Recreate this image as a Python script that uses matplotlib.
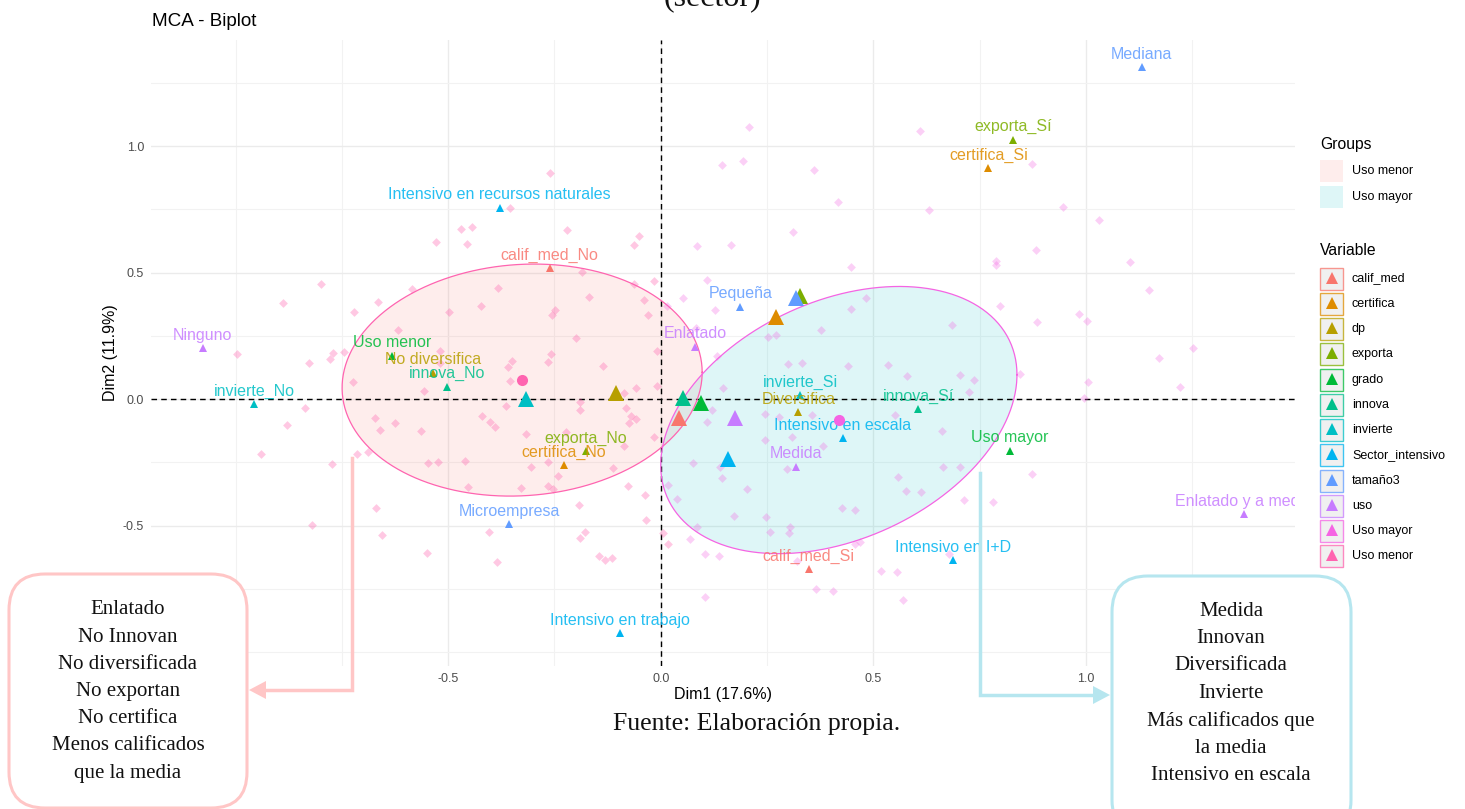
import numpy as np
import matplotlib
matplotlib.use("Agg")
import matplotlib.pyplot as plt
from matplotlib.patches import FancyBboxPatch, Rectangle, Polygon

plt.rcParams["font.family"] = ["Liberation Sans", "DejaVu Sans"]
plt.rcParams["axes.unicode_minus"] = False

# --- variables (legend order) and ggplot hue colours
var_names = ["calif_med", "certifica", "dp", "exporta", "grado", "innova", "invierte",
             "Sector_intensivo", "tamaño3", "uso", "Uso mayor", "Uso menor"]
var_colors = ["#F8766D", "#DE8C00", "#B79F00", "#7CAE00", "#00BA38", "#00C08B", "#00BFC4",
              "#00B4F0", "#619CFF", "#C77CFF", "#F564E3", "#FF64B0"]
# big markers: variable centroids (triangles) and group means (circles, last two)
var_x = [0.042, 0.272, -0.105, 0.328, 0.095, 0.052, -0.316, 0.159, 0.319, 0.174, 0.419, -0.326]
var_y = [-0.076, 0.325, 0.025, 0.408, -0.017, 0.005, -0.001, -0.238, 0.398, -0.076, -0.083, 0.075]

# --- category coordinates
cat_labels = ["calif_med_No", "calif_med_Si", "certifica_No", "certifica_Si",
              "No diversifica", "Diversifica", "exporta_No", "exporta_Sí",
              "Uso menor", "Uso mayor", "innova_No", "innova_Sí",
              "invierte_No", "invierte_Si",
              "Intensivo en recursos naturales", "Intensivo en escala",
              "Intensivo en I+D", "Intensivo en trabajo",
              "Mediana", "Pequeña", "Microempresa",
              "Ninguno", "Enlatado", "Medida", "Enlatado y a media"]
cat_var = ["calif_med", "calif_med", "certifica", "certifica", "dp", "dp", "exporta", "exporta",
           "grado", "grado", "innova", "innova", "invierte", "invierte",
           "Sector_intensivo", "Sector_intensivo", "Sector_intensivo", "Sector_intensivo",
           "tamaño3", "tamaño3", "tamaño3", "uso", "uso", "uso", "uso"]
cat_x = [-0.261, 0.348, -0.228, 0.771, -0.535, 0.324, -0.176, 0.829, -0.632, 0.821, -0.503, 0.606,
         -0.957, 0.328, -0.379, 0.428, 0.688, -0.095, 1.131, 0.187, -0.356, -1.077, 0.081, 0.318, 1.372]
cat_y = [0.518, -0.673, -0.262, 0.913, 0.104, -0.053, -0.207, 1.024, 0.170, -0.204, 0.049, -0.041,
         -0.020, 0.016, 0.755, -0.155, -0.638, -0.926, 1.312, 0.365, -0.495, 0.200, 0.207, -0.268, -0.456]

# --- individuals by group
menor_x = [-0.260, -0.354, -0.469, -0.444, -0.528, -0.456, -0.220, -0.050, -0.062, -0.184, -0.799, -0.584,
           -0.382, -0.062, -0.016, -0.889, -0.665, -0.422, -0.168, -0.040, -0.722, -0.498, -0.248, -0.256,
           -0.031, -0.619, -0.200, -0.996, -0.771, -0.746, -0.828, -0.778, -0.520, -0.257, -0.351, -0.265,
           -0.136, -0.009, -0.360, -0.519, -0.724, -0.556, -0.354, -0.364, -0.191, -0.191, -0.087, -0.057,
           -0.008, -0.837, -0.878, -0.672, -0.625, -0.661, -0.564, -0.420, -0.401, -0.389, -0.316, -0.082,
           -0.070, -0.057, -0.075, -0.016, -0.222, -0.087, -0.941, -0.774, -0.715, -0.688, -0.548, -0.524,
           -0.460, -0.306, -0.266, -0.242, -0.113, -0.453, -0.328, -0.265, -0.253, -0.077, -0.036, -0.193,
           -0.669, -0.821, -0.035, -0.656, -0.403, -0.179, -0.189, -0.549, -0.385, -0.146, -0.132, -0.115,
           0.006, 0.018]
menor_y = [0.892, 0.756, 0.673, 0.681, 0.622, 0.614, 0.669, 0.645, 0.610, 0.503, 0.455, 0.436,
           0.440, 0.455, 0.468, 0.381, 0.385, 0.369, 0.404, 0.392, 0.345, 0.345, 0.353, 0.332,
           0.332, 0.273, 0.242, 0.179, 0.183, 0.187, 0.143, 0.158, 0.190, 0.179, 0.150, 0.146,
           0.132, 0.190, 0.128, 0.141, 0.068, 0.033, 0.072, -0.026, -0.011, -0.043, 0.023, 0.045,
           0.053, -0.034, -0.103, -0.074, -0.094, -0.123, -0.126, -0.066, -0.090, -0.109, -0.138, -0.037,
           -0.066, -0.079, -0.094, -0.149, -0.132, -0.186, -0.217, -0.257, -0.217, -0.208, -0.252, -0.248,
           -0.245, -0.270, -0.248, -0.304, -0.272, -0.349, -0.351, -0.344, -0.355, -0.344, -0.379, -0.419,
           -0.432, -0.498, -0.478, -0.538, -0.527, -0.527, -0.551, -0.610, -0.645, -0.621, -0.638, -0.630,
           -0.531, -0.571]
mayor_x = [0.207, 0.611, 0.144, 0.194, 0.361, 0.873, 0.418, 0.632, 0.946, 1.031, 0.311, 0.085,
           0.165, 0.882, 0.789, 0.788, 1.104, 0.447, 0.110, 1.149, 0.052, 0.484, 0.128, 0.448,
           0.797, 0.984, 1.002, 0.885, 0.685, 0.377, 0.252, 0.272, 0.084, 0.015, 1.253, 1.171,
           0.132, 0.300, 0.333, 0.441, 0.535, 0.703, 0.724, 0.579, 0.552, 0.662, 0.356, 0.246,
           0.278, 0.109, 0.120, 0.146, 0.309, 0.246, 0.382, 0.140, 0.144, 0.076, 0.665, 0.705,
           0.202, 0.296, 0.016, 0.039, 0.172, 0.247, 0.256, 0.304, 0.302, 0.085, 0.068, 0.104,
           0.138, 0.320, 0.104, 0.366, 0.406, 0.519, 0.556, 0.571, 0.427, 0.457, 0.468, 0.458,
           0.578, 0.613, 0.559, 0.737, 0.844, 1.005, 0.995, 1.221, 0.873, 0.714, 0.782, 0.677]
mayor_y = [1.074, 1.059, 0.925, 0.941, 0.905, 0.928, 0.780, 0.748, 0.758, 0.709, 0.661, 0.606,
           0.610, 0.590, 0.547, 0.531, 0.543, 0.523, 0.472, 0.432, 0.400, 0.400, 0.353, 0.357,
           0.368, 0.336, 0.309, 0.306, 0.294, 0.273, 0.246, 0.254, 0.282, 0.368, 0.203, 0.163,
           0.170, 0.137, 0.143, 0.132, 0.136, 0.095, 0.029, 0.092, -0.063, -0.125, -0.063, -0.060,
           -0.070, -0.090, -0.043, 0.045, -0.149, -0.162, -0.185, -0.268, -0.313, -0.252, -0.270, -0.270,
           -0.356, -0.277, -0.340, -0.395, -0.462, -0.465, -0.525, -0.505, -0.528, -0.505, -0.555, -0.614,
           -0.621, -0.639, -0.781, -0.750, -0.758, -0.681, -0.685, -0.793, -0.431, -0.440, -0.564, -0.573,
           -0.364, -0.368, -0.309, 0.075, 0.099, 0.068, 0.003, 0.049, -0.296, -0.399, -0.408, -0.614]

# --- concentration ellipses (spread along x, y and covariance term)
groups = ["Uso menor", "Uso mayor"]
group_fill = ["#F8766D", "#00BFC4"]
group_edge = ["#FF64B0", "#F564E3"]
ell_sx = [0.4235, 0.419]
ell_sy = [0.4585, 0.528]
ell_cxy = [0.013, 0.075]

left_box = ["Enlatado", "No Innovan", "No diversificada", "No exportan", "No certifica",
            "Menos calificados", "que la media"]
right_box = ["Medida", "Innovan", "Diversificada", "Invierte", "Más calificados que",
             "la media", "Intensivo en escala"]

W, H = 1465, 809
fig = plt.figure(figsize=(W / 100, H / 100), dpi=100)
ax = fig.add_axes([151 / W, 1 - 666 / H, (1295 - 151) / W, (666 - 39.5) / H])
ax.set_xlim(-1.199, 1.492)
ax.set_ylim(-1.055, 1.421)
for s in ax.spines.values():
    s.set_visible(False)
ax.set_xticks([-0.5, 0.0, 0.5, 1.0])
ax.set_yticks([-0.5, 0.0, 0.5, 1.0])
ax.set_xticks([-1.0, -0.75, -0.25, 0.25, 0.75, 1.25], minor=True)
ax.set_yticks([-1.0, -0.75, -0.25, 0.25, 0.75, 1.25], minor=True)
ax.grid(which="major", color="#EBEBEB", lw=1.0, zorder=0)
ax.grid(which="minor", color="#F2F2F2", lw=0.8, zorder=0)
ax.tick_params(which="both", length=0, labelsize=9, labelcolor="#4D4D4D")
ax.tick_params(axis="x", pad=5)
ax.tick_params(axis="y", pad=5)
ax.set_axisbelow(True)
ax.axhline(0, color="black", ls=(0, (4, 3)), lw=1.0, zorder=2)
ax.axvline(0, color="black", ls=(0, (4, 3)), lw=1.0, zorder=2)

# ellipses
t = np.linspace(0, 2 * np.pi, 300)
for gi, g in enumerate(groups):
    cx, cy = var_x[var_names.index(g)], var_y[var_names.index(g)]
    L = np.linalg.cholesky([[ell_sx[gi] ** 2, ell_cxy[gi]], [ell_cxy[gi], ell_sy[gi] ** 2]])
    pts = (L @ np.vstack([np.cos(t), np.sin(t)])).T + [cx, cy]
    ax.fill(pts[:, 0], pts[:, 1], color=group_fill[gi], alpha=0.13, lw=0, zorder=1)
    ax.plot(pts[:, 0], pts[:, 1], color=group_edge[gi], lw=0.9, zorder=3)

# individuals
ax.scatter(menor_x, menor_y, marker="D", s=20, color="#FF64B0", alpha=0.35, lw=0, zorder=3)
ax.scatter(mayor_x, mayor_y, marker="D", s=20, color="#F564E3", alpha=0.3, lw=0, zorder=3)

# categories
for lab, v, x, y in zip(cat_labels, cat_var, cat_x, cat_y):
    col = var_colors[var_names.index(v)]
    ax.plot(x, y, marker="^", ms=5.5, color=col, mew=0, zorder=4)
    ax.annotate(lab, (x, y), xytext=(0, 9.4), textcoords="offset points", ha="center",
                va="center", fontsize=11.5, color=col, alpha=0.85, zorder=5,
                annotation_clip=False, clip_on=True)

# variable centroids and group means
for name, col, x, y in zip(var_names, var_colors, var_x, var_y):
    if name in groups:
        ax.plot(x, y, marker="o", ms=8, color=col, mew=0, zorder=6)
    else:
        ax.plot(x, y, marker="^", ms=11, color=col, mew=0, zorder=6)

fig.text(152 / W, 1 - 21 / H, "MCA - Biplot", fontsize=13.6, va="center", ha="left")
fig.text(723 / W, 1 - 695 / H, "Dim1 (17.6%)", fontsize=11.5, va="center", ha="center")
fig.text(110 / W, 1 - 353 / H, "Dim2 (11.9%)", fontsize=11.5, va="center", ha="center",
         rotation=90)

# overlay in pixel units: legends, callout boxes, arrows, source note
ov = fig.add_axes([0, 0, 1, 1])
ov.set_xlim(0, W)
ov.set_ylim(H, 0)
ov.axis("off")
ov.patch.set_alpha(0)

ov.text(1320, 144, "Groups", fontsize=11.3, va="center")
for i, g in enumerate(groups):
    yy = 171 + 25.5 * i
    ov.add_patch(Rectangle((1320, yy - 11), 23, 22, facecolor=group_fill[i], alpha=0.13, lw=0))
    ov.text(1352, yy, g, fontsize=9, va="center")

ov.text(1320, 250, "Variable", fontsize=11.3, va="center")
for i, (name, col) in enumerate(zip(var_names, var_colors)):
    yy = 278.5 + 25.25 * i
    ov.add_patch(Rectangle((1320, yy - 11), 23, 22, facecolor="#EBEBEB", edgecolor=col,
                           lw=1.0, alpha=0.75))
    ov.plot(1331.5, yy - 1, marker="^", ms=9, color=col, mew=0)
    ov.text(1352, yy, name, fontsize=9, va="center")

pink, cyan = "#FFC6C6", "#B6E6EF"
ov.add_patch(FancyBboxPatch((9, 574), 238, 234, boxstyle="round,pad=0,rounding_size=36",
                            facecolor="white", edgecolor=pink, lw=2.2))
ov.add_patch(FancyBboxPatch((1112, 576), 239, 260, boxstyle="round,pad=0,rounding_size=36",
                            facecolor="white", edgecolor=cyan, lw=2.2))
for i, line in enumerate(left_box):
    ov.text(128, 610 + 27.2 * i, line, fontsize=15, family="Liberation Serif",
            ha="center", va="center", color="#111111")
for i, line in enumerate(right_box):
    ov.text(1231, 611 + 27.5 * i, line, fontsize=15, family="Liberation Serif",
            ha="center", va="center", color="#111111")

ov.plot([352, 352, 264], [458, 690, 690], color=pink, lw=2.5, solid_joinstyle="miter")
ov.add_patch(Polygon([(249, 690), (266, 681), (266, 699)], closed=True, color=pink, lw=0))
ov.plot([980, 980, 1094], [473, 695, 695], color=cyan, lw=2.5, solid_joinstyle="miter")
ov.add_patch(Polygon([(1110, 695), (1093, 686), (1093, 704)], closed=True, color=cyan, lw=0))

ov.text(757, 724, "Fuente: Elaboración propia.", fontsize=18.5, family="Liberation Serif",
        ha="center", va="center", color="#111111")
# page heading above the chart, cut by the top edge as in the source
ov.text(712, 5, "(sector)", fontsize=23, family="Liberation Serif", ha="center",
        va="baseline", color="#111111")

fig.savefig("out.png", dpi=100)
